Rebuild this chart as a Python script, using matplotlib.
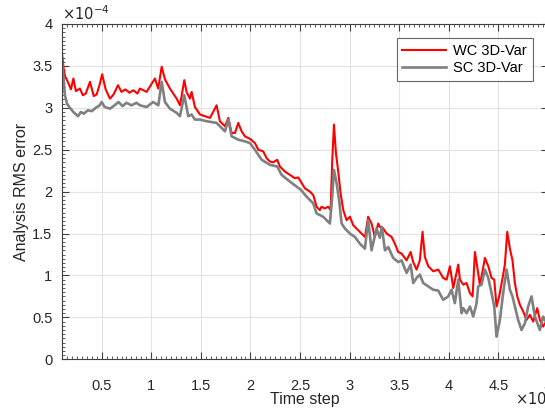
import numpy as np
import matplotlib
matplotlib.use("Agg")
import matplotlib.pyplot as plt
from matplotlib.ticker import MultipleLocator, AutoMinorLocator, FuncFormatter

# WC 3D-Var analysis RMS error (values in units of 1e-4)
t_wc = [1000, 1150, 1300, 1500, 1700, 1900, 2150, 2400, 2810, 3100, 3400, 3820,
        4200, 4500, 4800, 5050, 5400, 5840, 6200, 6640, 7000, 7400, 7800, 8200,
        8600, 8860, 9530, 10370, 10700, 11050, 11380, 11880, 12560, 12900, 13330,
        13560, 13900, 14070, 14400, 14910, 15420, 15920, 16590, 16920, 17430,
        17770, 18100, 18440, 18770, 19110, 19440, 19950, 20450, 20790, 21290,
        21630, 21960, 22300, 22700, 22970, 23480, 23980, 24480, 24820, 25490,
        26000, 26330, 26670, 27000, 27170, 27500, 27840, 28080, 28250, 28420,
        28620, 28850, 29090, 29360, 29690, 30030, 30360, 30700, 31200, 31540,
        31870, 32210, 32540, 32880, 33050, 33390, 33730, 34230, 34560, 34900,
        35240, 35740, 36150, 36410, 36750, 37080, 37350, 37590, 37930, 38430,
        38940, 39440, 39780, 40110, 40450, 40950, 41120, 41460, 41790, 42130,
        42400, 42630, 42870, 43130, 43400, 43640, 43980, 44310, 44580, 44810,
        45080, 45420, 45650, 45890, 46160, 46420, 46660, 46900, 47170, 47500,
        47840, 48170, 48510, 48910, 49180, 49510, 49680, 50000]
wc = [3.65, 3.48, 3.38, 3.33, 3.28, 3.22, 3.35, 3.20, 3.23, 3.15, 3.17, 3.31,
      3.14, 3.16, 3.28, 3.40, 3.22, 3.11, 3.16, 3.27, 3.19, 3.22, 3.18, 3.21,
      3.17, 3.23, 3.19, 3.35, 3.23, 3.49, 3.34, 3.23, 3.11, 3.03, 3.33,
      3.19, 3.11, 3.19, 3.01, 2.92, 2.90, 2.88, 3.03, 2.84, 2.78,
      2.88, 2.70, 2.70, 2.82, 2.72, 2.66, 2.63, 2.58, 2.50, 2.48,
      2.40, 2.36, 2.35, 2.38, 2.30, 2.24, 2.20, 2.16, 2.17, 2.04,
      2.00, 1.96, 1.82, 1.78, 1.82, 1.80, 1.82, 1.78, 2.38, 2.80,
      2.46, 2.24, 1.98, 1.78, 1.66, 1.70, 1.60, 1.56, 1.50, 1.46,
      1.70, 1.62, 1.46, 1.62, 1.58, 1.56, 1.50, 1.46, 1.38, 1.28,
      1.26, 1.18, 1.28, 1.16, 1.07, 1.18, 1.52, 1.22, 1.11, 1.05,
      1.07, 0.97, 0.95, 1.11, 0.85, 1.13, 0.95, 0.89, 0.91, 0.79,
      0.75, 1.28, 1.10, 0.89, 1.05, 1.21, 1.11, 0.97, 0.95, 0.63,
      0.75, 0.97, 1.13, 1.52, 1.32, 1.18, 0.91, 0.75, 0.65, 0.57,
      0.47, 0.53, 0.45, 0.61, 0.47, 0.39, 0.43, 0.40]

# SC 3D-Var analysis RMS error (values in units of 1e-4)
t_sc = [1000, 1150, 1300, 1500, 1800, 2150, 2610, 2900, 3200, 3600, 4000, 4400,
        4800, 5000, 5300, 5840, 6300, 6700, 7100, 7500, 8000, 8500, 8860, 9530,
        10200, 10710, 11050, 11380, 11880, 12560, 12890, 13330, 13730, 14070,
        14400, 14910, 15580, 16590, 16920, 17430, 17770, 18100, 18770, 19440,
        19950, 20450, 21130, 21960, 22700, 23140, 23980, 24650, 25100, 25660,
        26330, 26670, 27340, 28010, 28250, 28420, 28690, 28960, 29190, 29530,
        30030, 30530, 31030, 31540, 31870, 32210, 32710, 33040, 33250, 33560,
        33890, 34390, 34900, 35240, 35740, 36150, 36410, 36750, 37080, 37420,
        37920, 38430, 38930, 39430, 39940, 40280, 40610, 40950, 41290, 41460,
        41790, 42130, 42460, 42800, 42960, 43300, 43640, 43980, 44310, 44580,
        44810, 45150, 45480, 45820, 46160, 46420, 46660, 46990, 47330, 47670,
        48000, 48340, 48680, 49180, 49510, 50000]
sc = [3.55, 3.35, 3.15, 3.05, 3.00, 2.95, 2.90, 2.95, 2.93, 2.97, 2.96, 3.00,
      3.03, 3.07, 3.01, 2.99, 3.03, 3.07, 3.02, 3.06, 3.03, 3.06, 3.03, 3.01,
      3.07, 3.03, 3.31, 3.07, 2.99, 2.94, 2.90, 3.15, 2.90, 2.92,
      2.86, 2.86, 2.84, 2.82, 2.78, 2.72, 2.86, 2.66, 2.62, 2.60,
      2.58, 2.50, 2.38, 2.32, 2.30, 2.20, 2.12, 2.06, 2.02, 1.94,
      1.86, 1.74, 1.70, 1.62, 1.95, 2.26, 2.10, 1.88, 1.62, 1.56,
      1.50, 1.46, 1.38, 1.32, 1.66, 1.30, 1.56, 1.45, 1.58, 1.30,
      1.34, 1.21, 1.16, 1.18, 1.03, 1.13, 0.91, 0.97, 1.01, 0.91,
      0.87, 0.83, 0.82, 0.71, 0.75, 0.83, 0.67, 0.95, 0.55, 0.61,
      0.55, 0.63, 0.51, 0.67, 0.87, 0.89, 1.07, 0.97, 0.79, 0.63,
      0.27, 0.47, 0.79, 1.07, 0.83, 0.75, 0.63, 0.47, 0.35, 0.43,
      0.63, 0.75, 0.51, 0.35, 0.51, 0.40]

plt.rcParams["font.family"] = ["Liberation Sans", "DejaVu Sans"]
axis_col = "#404040"

fig = plt.figure(figsize=(5.45, 4.08), dpi=100)
ax = fig.add_axes([62 / 545, 1 - 359.3 / 408, 486 / 545, 335.3 / 408])

ax.plot(t_wc, np.array(wc) * 1e-4, color="#ff0000", lw=1.5, label="WC 3D-Var")
ax.plot(t_sc, np.array(sc) * 1e-4, color="#808080", lw=1.9, label="SC 3D-Var")

ax.set_xlim(1000, 50000)
ax.set_ylim(0, 4e-4)
ax.xaxis.set_major_locator(MultipleLocator(5000))
ax.yaxis.set_major_locator(MultipleLocator(0.5e-4))
ax.xaxis.set_minor_locator(AutoMinorLocator(10))
ax.yaxis.set_minor_locator(AutoMinorLocator(10))
ax.xaxis.set_major_formatter(FuncFormatter(lambda v, _: f"{v / 1e4:g}"))
ax.yaxis.set_major_formatter(FuncFormatter(lambda v, _: f"{v * 1e4:g}"))

ax.grid(True, which="major", color="#e3e3e3", lw=0.8)
ax.set_axisbelow(True)
for s in ax.spines.values():
    s.set_color(axis_col)
    s.set_linewidth(0.8)
ax.tick_params(which="both", direction="in", top=True, right=True,
               colors=axis_col, labelcolor="#262626", labelsize=10.5)
ax.tick_params(which="major", length=5, width=0.8)
ax.tick_params(which="minor", length=2.5, width=0.6)
ax.tick_params(axis="x", pad=14.5)
ax.tick_params(axis="y", pad=7)

ax.set_xlabel("Time step", fontsize=11.5, color="#262626", labelpad=-1)
ax.set_ylabel("Analysis RMS error", fontsize=11.5, color="#262626", labelpad=2)

ax.text(0.0, 1.004, r"$\times10^{-4}$", transform=ax.transAxes, ha="left",
        va="bottom", fontsize=10.5, color="#262626")
fig.text(515 / 545, 1 - 405 / 408, r"$\times10^{4}$", ha="left", va="baseline",
         fontsize=10.5, color="#262626")

leg = ax.legend(loc="upper right", bbox_to_anchor=(0.969, 0.958), borderaxespad=0,
                fontsize=10.5, handlelength=3.0, frameon=True, fancybox=False,
                borderpad=0.4, labelspacing=0.2, handletextpad=0.5)
leg.get_frame().set_edgecolor(axis_col)
leg.get_frame().set_linewidth(0.8)

fig.savefig("out.png", dpi=100)
